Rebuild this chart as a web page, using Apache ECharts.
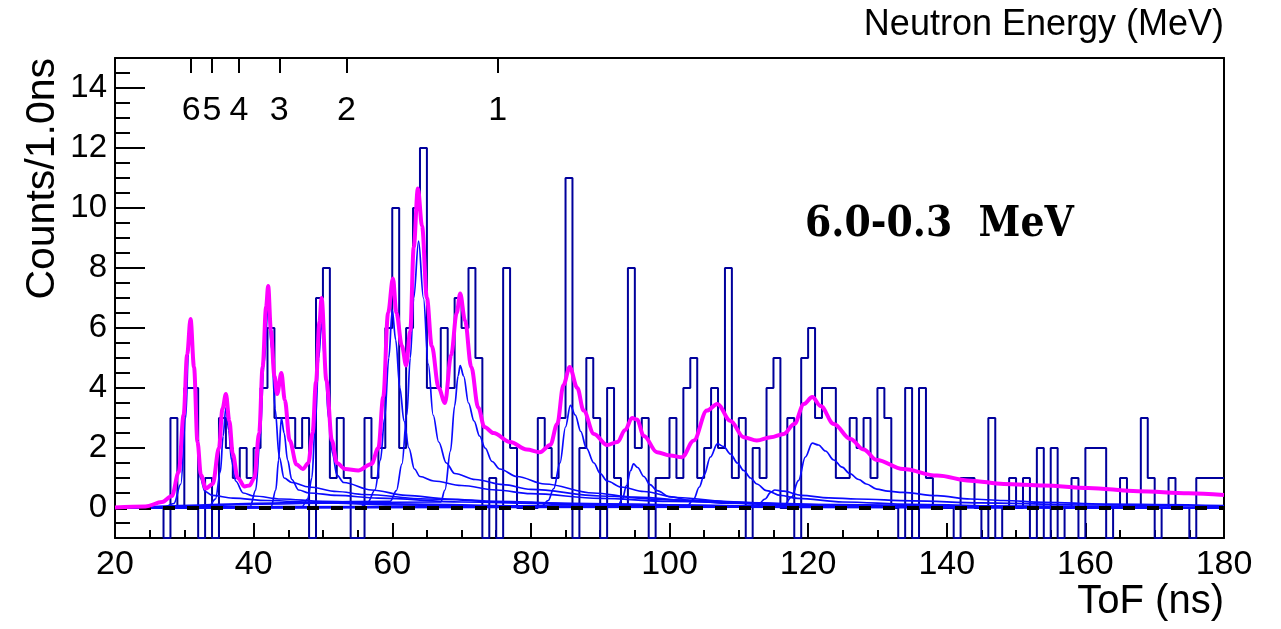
<!DOCTYPE html>
<html>
<head>
<meta charset="utf-8">
<script src="https://cdn.jsdelivr.net/npm/echarts@6/dist/echarts.min.js"></script>
<style>
html,body{margin:0;padding:0;background:#fff;}
#chart{width:1281px;height:629px;}
</style>
</head>
<body>
<div id="chart"></div>
<script>
// ---- data ----
const binStart = 20; // ns, bin width 1 ns
const counts = [
  0,0,0,0,0,0,0,-1,3,0,      // 20-29
  4,4,-1,1,-1,3,2,1,2,1,     // 30-39
  2,4,6,3,3,3,2,3,-1,7,      // 40-49
  8,1,3,1,-1,-1,3,1,2,6,     // 50-59
  10,2,6,10,12,4,4,6,4,7,    // 60-69
  6,8,5,-1,1,-1,8,2,0,0,     // 70-79
  0,3,2,1,3,11,-1,2,5,3,     // 80-89
  -1,4,1,0,8,2,3,-1,1,1,     // 90-99
  3,1,4,5,1,2,4,2,8,1,       // 100-109
  3,-1,2,1,4,5,0,3,-1,5,     // 110-119
  6,3,4,4,1,1,3,2,3,1,       // 120-129
  4,3,0,-1,4,-1,4,1,0,0,     // 130-139
  0,-1,1,1,0,-1,3,-1,0,1,    // 140-149
  0,1,-1,2,-1,2,-1,0,1,-1,   // 150-159
  2,2,2,-1,0,1,0,0,3,1,      // 160-169
  -1,0,1,0,0,-1,1,1,1,1      // 170-179
];

const totalFit = [[20,0.02],[24.4,0.05],[26.8,0.2],[28.2,0.4],[29.2,1.2],[29.9,3.1],[30.4,5.1],[30.9,6.3],[31.4,4.7],[31.9,2.2],[32.4,1.1],[33.1,0.65],[34.1,0.8],[35,2.0],[35.5,3.3],[36,3.8],[36.5,2.9],[37,1.8],[37.7,1.0],[38.7,0.72],[39.4,0.75],[40.1,1.0],[40.8,2.5],[41.3,4.7],[41.8,6.7],[42.1,7.4],[42.5,5.9],[43,4.4],[43.4,3.8],[44,4.5],[44.5,3.6],[45.2,2.25],[46.2,1.45],[47.1,1.3],[47.9,1.5],[48.5,2.5],[49,4.2],[49.5,6.2],[49.8,7.0],[50.5,4.25],[51.3,2.25],[52,1.5],[53.2,1.3],[55.1,1.25],[57,1.47],[58,2.0],[58.7,3.7],[59.4,6.5],[60.1,7.65],[60.6,6.5],[61.4,5.4],[62,4.75],[62.6,5.9],[63.1,8.7],[63.7,10.65],[64.3,9.4],[65,7.0],[65.7,5.4],[66.7,4.0],[67.6,3.5],[68.5,5.1],[69.3,6.5],[69.8,7.15],[70.5,6.25],[71.4,4.7],[72.4,3.35],[73.3,2.7],[74.6,2.5],[77,2.2],[79.4,1.95],[81.3,1.86],[82.8,2.1],[83.8,2.8],[84.7,4.1],[85.6,4.7],[86.7,4.0],[87.6,3.25],[89.1,2.47],[91,2.1],[92.5,2.2],[93.6,2.6],[94.6,3.0],[95.3,2.95],[96.3,2.4],[98.2,1.86],[100.1,1.75],[101.8,1.69],[103.5,2.25],[105.4,3.25],[106.9,3.47],[108.8,2.9],[110.7,2.36],[112.6,2.25],[114.6,2.36],[116.5,2.47],[118,2.8],[119.4,3.47],[120.6,3.7],[121.8,3.4],[123.7,2.8],[126.1,2.3],[128,1.95],[129.9,1.6],[133.7,1.3],[138.6,1.08],[143.4,0.91],[148.2,0.8],[154,0.75],[160.4,0.67],[167.6,0.56],[174.9,0.49],[180,0.43]];

const peak31 = [[20,0],[27,0.02],[28.5,0.15],[29.5,0.8],[30.2,3.0],[30.6,5.2],[31,6.2],[31.4,4.6],[31.8,2.4],[32.3,1.0],[33,0.55],[34,0.42],[37,0.33],[42,0.25],[50,0.17],[60,0.1],[80,0.05],[120,0.02],[180,0]];
const peak36 = [[20,0],[33.5,0.03],[34.5,0.3],[35.2,1.2],[35.6,2.4],[36,3.35],[36.4,2.6],[36.8,1.6],[37.4,0.9],[38.5,0.5],[40,0.4],[44,0.3],[50,0.22],[60,0.14],[80,0.07],[120,0.03],[180,0]];
const peak42 = [[20,0],[39.5,0.05],[40.3,0.6],[40.9,2.2],[41.5,4.8],[42.1,6.75],[42.6,5.3],[43.1,3.3],[43.7,1.7],[44.4,1.0],[45.5,0.85],[48,0.7],[52,0.55],[56,0.45],[65,0.3],[80,0.16],[120,0.05],[180,0]];
const peak44 = [[20,0],[42.5,0.03],[43.2,0.6],[43.6,1.6],[44,3.0],[44.4,2.5],[44.9,1.6],[45.5,0.95],[46.5,0.6],[48,0.5],[52,0.42],[58,0.33],[70,0.2],[90,0.1],[130,0.03],[180,0]];
const peak50 = [[20,0],[47,0.05],[47.8,0.3],[48.4,1.0],[48.9,2.8],[49.4,5.0],[49.8,6.2],[50.3,4.8],[50.8,3.0],[51.4,1.8],[52,1.1],[53,0.85],[57,0.6],[62,0.42],[68,0.3],[75,0.22],[90,0.12],[120,0.05],[180,0]];
const peak60 = [[20,0],[55.5,0.05],[56.5,0.2],[57.5,0.6],[58.3,1.6],[58.9,3.0],[59.5,5.0],[60,6.6],[60.5,5.6],[61.1,4.0],[61.7,2.9],[62.4,2.0],[63.2,1.3],[64,1.05],[66,0.9],[70,0.75],[75,0.6],[80,0.48],[90,0.32],[100,0.22],[120,0.1],[150,0.04],[180,0]];
const peak64 = [[20,0],[59.7,0.22],[60.6,0.58],[61.4,1.47],[62.1,3.1],[62.6,5.0],[63.1,7.0],[63.8,8.9],[64.5,7.0],[65.2,4.8],[65.9,3.1],[66.7,2.2],[67.8,1.5],[69,1.15],[72,0.95],[76,0.78],[80,0.62],[90,0.4],[100,0.27],[120,0.12],[150,0.04],[180,0]];
const peak70 = [[20,0],[67,0.2],[67.6,0.6],[68.4,1.9],[69,3.4],[69.5,4.4],[69.8,4.75],[70.3,4.4],[71,3.5],[71.8,2.9],[72.6,2.4],[73.4,2.0],[74.4,1.55],[75.5,1.3],[78,1.05],[82,0.8],[89,0.5],[95,0.36],[105,0.22],[120,0.1],[150,0.03],[180,0]];
const peak86 = [[20,0],[81.5,0.05],[82.5,0.25],[83.3,0.65],[84.2,1.5],[85,2.7],[85.7,3.42],[86.4,3.1],[87.2,2.55],[88,2.0],[89.1,1.5],[90,1.15],[91,0.9],[93,0.7],[96.3,0.55],[101,0.35],[110,0.18],[130,0.07],[180,0]];
const peak95 = [[20,0],[92.5,0.05],[93.2,0.3],[93.8,0.75],[94.4,1.25],[94.8,1.47],[95.4,1.35],[96.3,1.05],[97.2,0.78],[98.2,0.58],[100,0.38],[103,0.25],[108,0.16],[120,0.07],[150,0.02],[180,0]];
const peak107 = [[20,0],[102.5,0.05],[103.5,0.3],[104.3,0.7],[105,1.1],[105.9,1.7],[106.9,2.14],[107.8,2.05],[108.8,1.8],[109.8,1.5],[110.7,1.25],[111.7,1.0],[112.6,0.8],[114,0.58],[116,0.42],[118.5,0.32],[125,0.2],[135,0.12],[150,0.06],[180,0.01]];
const peak116 = [[20,0],[112.5,0.03],[113.8,0.3],[114.6,0.52],[115.2,0.6],[116.5,0.56],[119,0.42],[123,0.34],[127,0.3],[135,0.24],[145,0.17],[160,0.1],[180,0.05]];
const peak121 = [[20,0],[116.4,0.05],[117.6,0.36],[118.6,0.91],[119.6,1.7],[120.6,2.16],[121.5,2.1],[122.5,1.9],[123.7,1.6],[124.9,1.36],[126,1.15],[127.3,0.95],[128.4,0.8],[129.9,0.63],[131.5,0.56],[133.7,0.52],[138.6,0.41],[143.4,0.3],[148.2,0.25],[154,0.19],[162.8,0.13],[180,0.08]];
const components = [peak31,peak36,peak42,peak44,peak50,peak60,peak64,peak70,peak86,peak95,peak107,peak116,peak121];

const baseline = [[20,0],[180,0]];

const yMajorTicks = [0,2,4,6,8,10,12,14];
const energyTof = [31.0, 34.0, 37.9, 43.7, 53.4, 75.2];
const energyLabels = ['6','5','4','3','2','1'];

// ---- chart ----
const hist = counts.map((c,i)=>[binStart+i, c]);
hist.push([binStart+counts.length, counts[counts.length-1]]);

const yMinor = [];
for (let v=-1; v<=15.001; v+=0.5) { if (yMajorTicks.indexOf(v) < 0) yMinor.push(v); }

const FONT = 'Liberation Sans, Arial, sans-serif';
const chart = echarts.init(document.getElementById('chart'), null, {renderer:'canvas'});

const series = [];
series.push({
  type:'line', name:'data', data:hist, step:'end', symbol:'none', clip:true,
  xAxisIndex:0, yAxisIndex:0,
  lineStyle:{color:'#00009c', width:2}, z:2, animation:false
});
components.forEach((c,i)=>{
  series.push({
    type:'line', name:'comp'+i, data:c, smooth:0.35, smoothMonotone:'x', symbol:'none', clip:true,
    xAxisIndex:0, yAxisIndex:0,
    lineStyle:{color:'#0a0aff', width:1.7}, z:3, animation:false
  });
});
series.push({
  type:'line', name:'bg', data:baseline, symbol:'none', xAxisIndex:0, yAxisIndex:0,
  lineStyle:{color:'#000', width:4, type:[12,12]}, z:4, animation:false
});
series.push({
  type:'line', name:'total', data:totalFit, smooth:0.35, smoothMonotone:'x', symbol:'none', clip:true,
  xAxisIndex:0, yAxisIndex:0,
  lineStyle:{color:'#ff00ff', width:4}, z:5, animation:false
});

const grid = {left:115, right:57, top:58, bottom:91};

chart.setOption({
  animation:false,
  backgroundColor:'#fff',
  grid:grid,
  xAxis:[
    { type:'value', position:'bottom', min:20, max:180, interval:20,
      axisLine:{show:true, onZero:false, lineStyle:{color:'#000', width:2}},
      axisTick:{show:true, inside:true, length:15, lineStyle:{color:'#000', width:2}},
      axisLabel:{show:true, margin:10, fontSize:34, fontFamily:FONT, color:'#000'},
      splitLine:{show:false} },
    { type:'value', position:'top', min:20, max:180,
      axisLine:{show:true, onZero:false, lineStyle:{color:'#000', width:2}},
      axisTick:{show:true, inside:true, length:15, customValues:energyTof, lineStyle:{color:'#000', width:2}},
      axisLabel:{show:true, inside:true, margin:36, customValues:energyTof, fontSize:34, fontFamily:FONT, color:'#000',
        formatter:function(v){ for (let i=0;i<energyTof.length;i++){ if (Math.abs(energyTof[i]-v)<1e-6) return energyLabels[i]; } return ''; } },
      splitLine:{show:false} },
    { type:'value', position:'bottom', min:20, max:180, interval:5,
      axisLine:{show:false, onZero:false},
      axisTick:{show:true, inside:true, length:8, lineStyle:{color:'#000', width:2}},
      axisLabel:{show:false}, splitLine:{show:false} }
  ],
  yAxis:[
    { type:'value', position:'left', min:-1, max:15,
      axisLine:{show:true, onZero:false, lineStyle:{color:'#000', width:2}},
      axisTick:{show:true, inside:true, length:30, customValues:yMajorTicks, lineStyle:{color:'#000', width:2}},
      axisLabel:{show:true, margin:8, customValues:yMajorTicks, fontSize:33, fontFamily:FONT, color:'#000'},
      splitLine:{show:false} },
    { type:'value', position:'right', min:-1, max:15,
      axisLine:{show:true, onZero:false, lineStyle:{color:'#000', width:2}},
      axisTick:{show:false}, axisLabel:{show:false}, splitLine:{show:false} },
    { type:'value', position:'left', min:-1, max:15,
      axisLine:{show:false, onZero:false},
      axisTick:{show:true, inside:true, length:15, customValues:yMinor, lineStyle:{color:'#000', width:2}},
      axisLabel:{show:false}, splitLine:{show:false} }
  ],
  graphic:[
    { type:'text', right:57, top:7, style:{text:'Neutron Energy (MeV)', font:'36px '+FONT, fill:'#000'} },
    { type:'text', right:57, top:582, style:{text:'ToF (ns)', font:'40px '+FONT, fill:'#000'} },
    { type:'text', x:22, y:58, rotation:Math.PI/2, style:{text:'Counts/1.0ns', font:'41px '+FONT, fill:'#000', textAlign:'right', textVerticalAlign:'top'} },
    { type:'text', x:805, y:225, scaleX:0.9, style:{text:'6.0-0.3  MeV', font:'bold 42px DejaVu Serif, serif', fill:'#000', textAlign:'left', textVerticalAlign:'middle'} }
  ],
  series:series
});
</script>
</body>
</html>
